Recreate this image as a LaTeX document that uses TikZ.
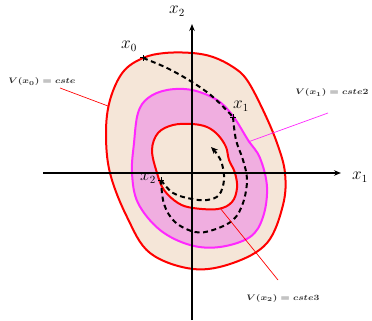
\documentclass[tikz,border=0pt]{standalone}
\usepackage{graphicx}
\usetikzlibrary{arrows.meta}
\definecolor{beige}{RGB}{245,230,216}
\definecolor{pinkfill}{RGB}{240,174,224}
\definecolor{mag}{RGB}{255,40,255}
\definecolor{annot}{RGB}{50,50,50}
\tikzset{
  plusmark/.pic={\draw[line width=1pt] (-3,0)--(3,0) (0,-3)--(0,3);},
}
\begin{document}
\begin{tikzpicture}[x=1pt,y=-1pt,
  levelline/.style={line width=2pt},
  axisline/.style={line width=1.4pt, -{Stealth[length=7pt,width=5.5pt]}},
  traj/.style={line width=2pt, dash pattern=on 5pt off 3.5pt},
  lab/.style={font=\fontsize{16}{18}\selectfont, inner sep=0pt},
  ann/.style={font=\fontsize{8}{10}\selectfont\boldmath, text=annot, inner sep=0pt},
  annline/.style={line width=0.7pt}]
\useasboundingbox (0,0) rectangle (372,321);
% level sets
\draw[levelline, red, fill=beige] plot[smooth cycle, tension=0.6] coordinates {
 (192,53) (213,57) (233,67) (247,80) (263,110) (277,143) (285,173) (283,205)
 (267,243) (233,263) (193,269) (150,253) (127,217) (110,173) (106,133) (110,100) (123,72) (143,58) (165,53)};
\draw[levelline, mag, fill=pinkfill] plot[smooth cycle, tension=0.6] coordinates {
 (192,90) (217,100) (233,116) (248,140) (260,158) (267,187) (263,217) (250,237)
 (220,247) (190,245) (160,230) (138,203) (132,173) (134,143) (138,113) (148,98) (167,90)};
\draw[levelline, red, fill=beige] plot[smooth cycle, tension=0.6] coordinates {
 (192,124) (207,127) (218,135) (226,147) (229,160) (235,173) (237,188) (232,202)
 (218,209) (193,208) (178,203) (164,190) (157,173) (152,150) (158,133) (173,125)};
% axes
\coordinate (xs) at (43,173);
\coordinate (xe) at (341,173);
\coordinate (ys) at (192,320);
\coordinate (ye) at (192,24);
\draw[axisline] (xs) -- (xe);
\draw[axisline] (ys) -- (ye);
\node[lab] (lx1) at (360,177) {$x_1$};
\node[lab] (lx2) at (177,11) {$x_2$};
% trajectory
\coordinate (p0) at (143,58);
\coordinate (p1) at (233,117);
\coordinate (p2) at (161,180);
\coordinate (pend) at (212,148);
\draw[traj] plot[smooth, tension=0.6] coordinates {(143,58) (167,68) (192,82) (213,97) (233,117)};
\draw[traj] plot[smooth, tension=0.6] coordinates {(233,117) (236,140) (243,160) (247,180) (243,203) (233,220) (213,230) (195,232) (175,222) (164,204) (161,180)};
\draw[traj, -{Stealth[length=7pt,width=6pt]}] plot[smooth, tension=0.6] coordinates {(161,180) (173,193) (192,199) (207,200) (219,195) (224,180) (222,164) (217,154) (211,147)};
\pic at (p0) {plusmark};
\pic at (p1) {plusmark};
\pic at (p2) {plusmark};
\node[lab] (lx0) at (129,46) {$x_0$};
\node[lab] (lp1) at (241,106) {$x_1$};
\node[lab] (lp2) at (148,178) {$x_2$};
% annotations
\node[ann] (a0) at (42,82) {\scalebox{1.2}[1]{$V(x_0)=cste$}};
\node[ann] (a1) at (332,93) {\scalebox{1.2}[1]{$V(x_1)=cste2$}};
\node[ann] (a2) at (283,298) {\scalebox{1.2}[1]{$V(x_2)=cste3$}};
\coordinate (c0) at (108,106);
\coordinate (c1) at (248,142);
\coordinate (c2) at (220,208);
\coordinate (a0e) at (60,88);
\coordinate (a1e) at (328,113);
\coordinate (a2e) at (278,280);
\draw[annline, red] (a0e) -- (c0);
\draw[annline, mag] (a1e) -- (c1);
\draw[annline, red] (a2e) -- (c2);
\end{tikzpicture}
\end{document}
